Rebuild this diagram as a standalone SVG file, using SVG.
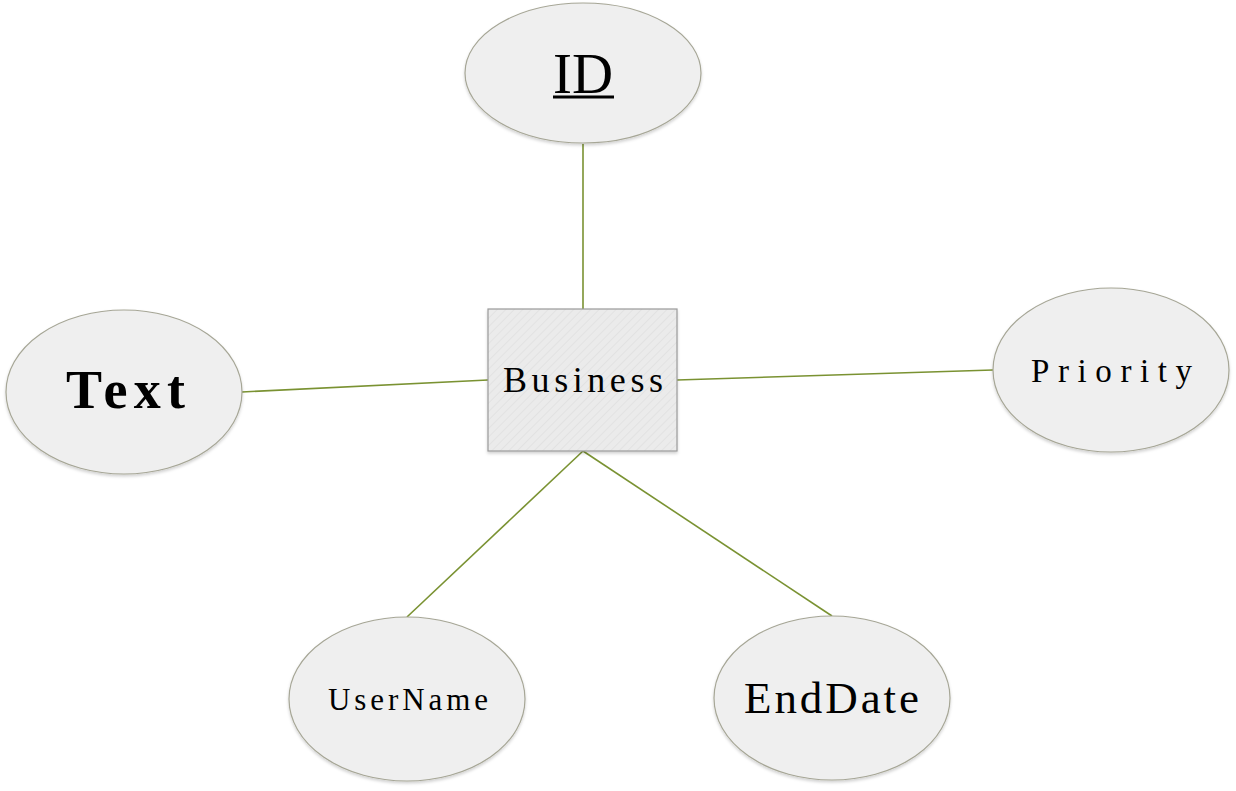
<svg xmlns="http://www.w3.org/2000/svg" width="1236" height="791" viewBox="0 0 1236 791">
<style>
.attr{fill:#EFEFEF;stroke:#A6A696;stroke-width:1.2}
.lbl{font-family:"Liberation Serif","Noto Serif",serif;fill:#000;text-anchor:start}
.conn line{stroke:#7A9232;stroke-width:1.6}
</style>
<defs>
<pattern id="hatch" width="6" height="6" patternUnits="userSpaceOnUse" patternTransform="rotate(45)">
<rect width="6" height="6" fill="#EBEBEB"/>
<line x1="0" y1="0" x2="0" y2="6" stroke="#E2E2E2" stroke-width="2"/>
</pattern>
<filter id="sh" x="-10%" y="-10%" width="120%" height="130%">
<feDropShadow dx="0" dy="2" stdDeviation="1.5" flood-color="#000" flood-opacity="0.18"/>
</filter>
</defs>
<rect width="1236" height="791" fill="#FFFFFF"/>
<g class="conn">
<line x1="583" y1="144" x2="583" y2="309"/>
<line x1="242" y1="392" x2="488" y2="380"/>
<line x1="677" y1="380" x2="993" y2="370"/>
<line x1="583" y1="451" x2="407" y2="617"/>
<line x1="583" y1="451" x2="832" y2="616"/>
</g>
<g id="node-id">
<ellipse class="attr" cx="583" cy="73" rx="118" ry="70" filter="url(#sh)"/>
<text class="lbl" x="553" y="93" font-size="56" textLength="60" lengthAdjust="spacingAndGlyphs">ID</text>
<line x1="553" y1="97" x2="614" y2="97" stroke="#000" stroke-width="3"/>
</g>
<g id="node-business">
<rect x="488" y="309" width="189" height="142" fill="url(#hatch)" stroke="#9A9A9A" stroke-width="1.2" filter="url(#sh)"/>
<text class="lbl" x="503" y="392" font-size="36" textLength="160" lengthAdjust="spacing">Business</text>
</g>
<g id="node-text">
<ellipse class="attr" cx="124" cy="392" rx="118" ry="82" filter="url(#sh)"/>
<text class="lbl" x="66" y="408" font-size="54" font-weight="bold" textLength="119" lengthAdjust="spacing">Text</text>
</g>
<g id="node-priority">
<ellipse class="attr" cx="1111" cy="370" rx="118" ry="82" filter="url(#sh)"/>
<text class="lbl" x="1031" y="382" font-size="33" textLength="161" lengthAdjust="spacing">Priority</text>
</g>
<g id="node-username">
<ellipse class="attr" cx="407" cy="699" rx="118" ry="82" filter="url(#sh)"/>
<text class="lbl" x="328" y="710" font-size="31" textLength="160" lengthAdjust="spacing">UserName</text>
</g>
<g id="node-enddate">
<ellipse class="attr" cx="832" cy="698" rx="118" ry="82" filter="url(#sh)"/>
<text class="lbl" x="744" y="713" font-size="45" textLength="175" lengthAdjust="spacing">EndDate</text>
</g>
</svg>
